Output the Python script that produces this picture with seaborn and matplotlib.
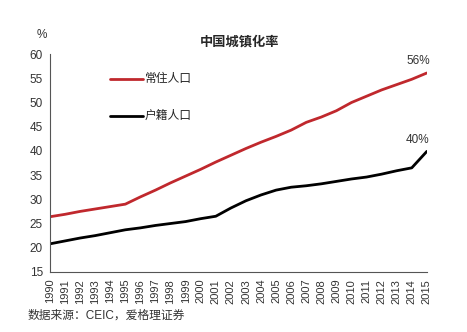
import matplotlib
matplotlib.use("Agg")
import matplotlib.pyplot as plt
import seaborn as sns
import pandas as pd

years = list(range(1990, 2016))
resident = [26.4, 26.9, 27.5, 28.0, 28.5, 29.0, 30.5, 31.9, 33.4, 34.8, 36.2, 37.7,
            39.1, 40.5, 41.8, 43.0, 44.3, 45.9, 47.0, 48.3, 50.0, 51.3, 52.6, 53.7, 54.8, 56.1]
hukou = [20.8, 21.4, 22.0, 22.5, 23.1, 23.7, 24.1, 24.6, 25.0, 25.4, 26.0, 26.5,
         28.2, 29.7, 30.9, 31.9, 32.5, 32.8, 33.2, 33.7, 34.2, 34.6, 35.2, 35.9, 36.5, 39.9]
series_names = ["常住人口", "户籍人口"]
end_labels = ["56%", "40%"]
yticks = [15, 20, 25, 30, 35, 40, 45, 50, 55, 60]

sns.set_style("white")
plt.rcParams['font.family'] = ['Liberation Sans', 'Noto Sans CJK SC', 'DejaVu Sans']

df = pd.DataFrame({"year": years * 2,
                   "value": resident + hukou,
                   "series": [series_names[0]] * len(years) + [series_names[1]] * len(years)})

fig = plt.figure(figsize=(4.67, 3.32), dpi=100)
ax = fig.add_axes([0.107, 0.181, 0.807, 0.656])
sns.lineplot(data=df, x="year", y="value", hue="series",
             palette={series_names[0]: "#c0282d", series_names[1]: "#000000"},
             linewidth=2, ax=ax, legend=False)

ax.set_xlim(years[0], years[-1])
ax.set_ylim(15, 60)
ax.set_xticks(years)
ax.set_xticklabels([str(y) for y in years], rotation=90, fontsize=8, color="#333333")
ax.set_yticks(yticks)
ax.set_yticklabels([str(v) for v in yticks], fontsize=8.5, color="#333333")
ax.set_xlabel("")
ax.set_ylabel("")
for s in ["top", "right"]:
    ax.spines[s].set_visible(False)
for s in ["left", "bottom"]:
    ax.spines[s].set_color("#555555")
    ax.spines[s].set_linewidth(0.8)
ax.tick_params(axis="both", direction="out", length=3, width=0.8, color="#555555", pad=2)

# legend
fig.lines.append(plt.Line2D([110/467, 143/467], [1-79/332, 1-79/332], color="#c0282d", lw=2, transform=fig.transFigure))
fig.lines.append(plt.Line2D([110/467, 143/467], [1-116/332, 1-116/332], color="#000000", lw=2, transform=fig.transFigure))
fig.text(145/467, 1-79/332, series_names[0], fontsize=8.5, va="center", color="#222222")
fig.text(145/467, 1-116/332, series_names[1], fontsize=8.5, va="center", color="#222222")

fig.text(240/467, 1-42/332, "中国城镇化率", fontsize=9.5, fontweight="bold", ha="center", va="center")
fig.text(42/467, 1-35/332, "%", fontsize=8.5, ha="center", va="center", color="#333333")

ax.annotate(end_labels[0], (years[-1], resident[-1]), xytext=(2, 4), textcoords="offset points",
            ha="right", va="bottom", fontsize=8.5, color="#333333")
ax.annotate(end_labels[1], (years[-1], hukou[-1]), xytext=(2, 4), textcoords="offset points",
            ha="right", va="bottom", fontsize=8.5, color="#333333")

fig.text(28/467, 1-316/332, "数据来源：CEIC，爱格理证券", fontsize=8.5, va="center", color="#333333")

fig.savefig("out.png", dpi=100)
